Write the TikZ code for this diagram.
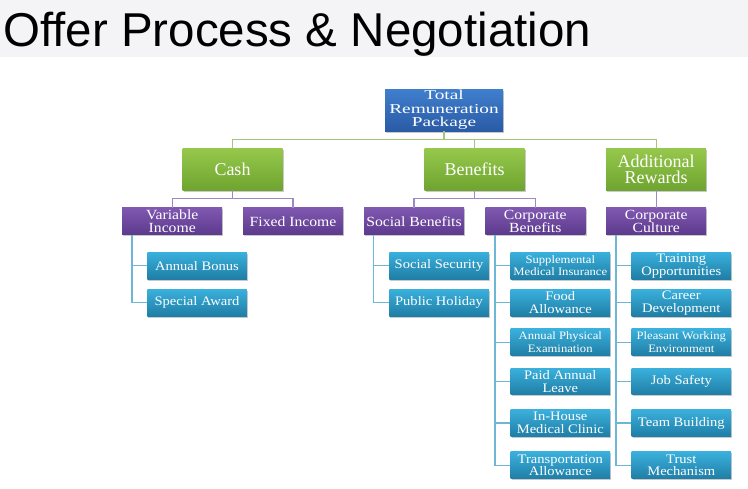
\documentclass[tikz,border=0pt]{standalone}
\usepackage{fontspec}
\setmainfont{Liberation Serif}
\newfontfamily\bx[FakeStretch=1.12]{Liberation Serif}
\newfontfamily\tx[FakeStretch=1.42]{Liberation Serif}
\newfontfamily\gx{Liberation Serif}
\newfontfamily\titlefont{Liberation Sans}
\usetikzlibrary{shadows}
\definecolor{barbg}{HTML}{F4F4F6}
\definecolor{totT}{HTML}{3F7FCE}
\definecolor{totB}{HTML}{2A5BA5}
\definecolor{grnT}{HTML}{96C84C}
\definecolor{grnB}{HTML}{6EA42F}
\definecolor{purT}{HTML}{8058B0}
\definecolor{purB}{HTML}{5C3A8C}
\definecolor{bluT}{HTML}{3AB0DC}
\definecolor{bluB}{HTML}{1F7EA6}
\definecolor{gline}{HTML}{A3C77A}
\definecolor{pline}{HTML}{9C8AC6}
\definecolor{bline}{HTML}{6DB6D6}
\tikzset{
  box/.style={rectangle, inner sep=0pt, text=white, align=center,
    drop shadow={shadow xshift=1.2pt, shadow yshift=-1.5pt, opacity=.35, fill=black!60}},
  totbox/.style={box, minimum width=118pt, minimum height=42pt, top color=totT, bottom color=totB,
    font=\tx\fontsize{13.6}{13.3}\selectfont},
  grnbox/.style={box, minimum width=100pt, minimum height=42pt, top color=grnT, bottom color=grnB,
    font=\gx\fontsize{18}{16.5}\selectfont},
  purbox/.style={box, minimum width=100pt, minimum height=27pt, top color=purT, bottom color=purB,
    font=\bx\fontsize{14}{13}\selectfont},
  blubox/.style={box, minimum width=99.5pt, minimum height=26.7pt, top color=bluT, bottom color=bluB,
    font=\bx\fontsize{13}{12.8}\selectfont},
  smallbox/.style={blubox, font=\bx\fontsize{11.3}{12.3}\selectfont},
  gl/.style={draw=gline, line width=1.3pt},
  pl/.style={draw=pline, line width=1.3pt},
  bl/.style={draw=bline, line width=1.3pt},
}
\begin{document}
\begin{tikzpicture}[x=1pt,y=1pt]
\useasboundingbox (0,0) rectangle (748,-488);
\fill[white] (0,0) rectangle (748,-488);
\fill[barbg] (0,0) rectangle (748,-57);
\node[anchor=base west, inner sep=0pt, font=\titlefont\fontsize{47.5}{50}\selectfont] (title) at (3,-46.5) {Offer Process \& Negotiation};

% level 0
\node[totbox] (tot) at (444,-110) {Total\\Remuneration\\Package};
% level 1
\node[grnbox] (cash) at (232.5,-169.2) {Cash};
\node[grnbox] (ben) at (474.7,-169.2) {Benefits};
\node[grnbox] (add) at (656.2,-169.2) {Additional\\Rewards};
% level 2
\node[purbox] (vi) at (172.2,-221.3) {Variable\\Income};
\node[purbox] (fi) at (293,-221.3) {Fixed Income};
\node[purbox] (sb) at (414,-221.3) {Social Benefits};
\node[purbox] (cb) at (535.3,-221.3) {Corporate\\Benefits};
\node[purbox] (cc) at (656.2,-221.3) {Corporate\\Culture};
% level 3
\node[blubox] (ab) at (197,-265.8) {Annual Bonus};
\node[blubox] (sa) at (197,-302.7) {Special Award};
\node[blubox] (ss) at (439,-265.7) {Social Security};
\node[blubox] (ph) at (439,-302.7) {Public Holiday};
\node[smallbox] (smi) at (560.3,-265.7) {Supplemental\\Medical Insurance};
\node[blubox] (fa) at (560.3,-302.7) {Food\\Allowance};
\node[smallbox] (ape) at (560.3,-342.2) {Annual Physical\\Examination};
\node[blubox] (pal) at (560.3,-381.5) {Paid Annual\\Leave};
\node[blubox] (ihm) at (560.3,-423) {In-House\\Medical Clinic};
\node[blubox] (ta) at (560.3,-465.3) {Transportation\\Allowance};
\node[blubox] (to) at (681.3,-265.7) {Training\\Opportunities};
\node[blubox] (cd) at (681.3,-302.7) {Career\\Development};
\node[smallbox] (pwe) at (681.3,-342.2) {Pleasant  Working\\Environment};
\node[blubox] (js) at (681.3,-381.5) {Job Safety};
\node[blubox] (tb) at (681.3,-423) {Team Building};
\node[blubox] (tm) at (681.3,-465.3) {Trust\\Mechanism};

% connectors level 0 -> 1
\foreach \c in {cash,ben,add}
  \draw[gl] (tot.south) -- (tot.south |- 0,-139.3) -| (\c.north);
% level 1 -> 2
\foreach \c in {vi,fi}
  \draw[pl] (cash.south) -- (cash.south |- 0,-198.3) -| (\c.north);
\foreach \c in {sb,cb}
  \draw[pl] (ben.south) -- (ben.south |- 0,-198.3) -| (\c.north);
\draw[pl] (add.south) -- (cc.north);
% level 2 -> 3
\foreach \c in {ab,sa}
  \draw[bl] ([xshift=10pt]vi.south west) |- (\c.west);
\foreach \c in {ss,ph}
  \draw[bl] ([xshift=10pt]sb.south west) |- (\c.west);
\foreach \c in {smi,fa,ape,pal,ihm,ta}
  \draw[bl] ([xshift=10pt]cb.south west) |- (\c.west);
\foreach \c in {to,cd,pwe,js,tb,tm}
  \draw[bl] ([xshift=10pt]cc.south west) |- (\c.west);
\end{tikzpicture}
\end{document}
